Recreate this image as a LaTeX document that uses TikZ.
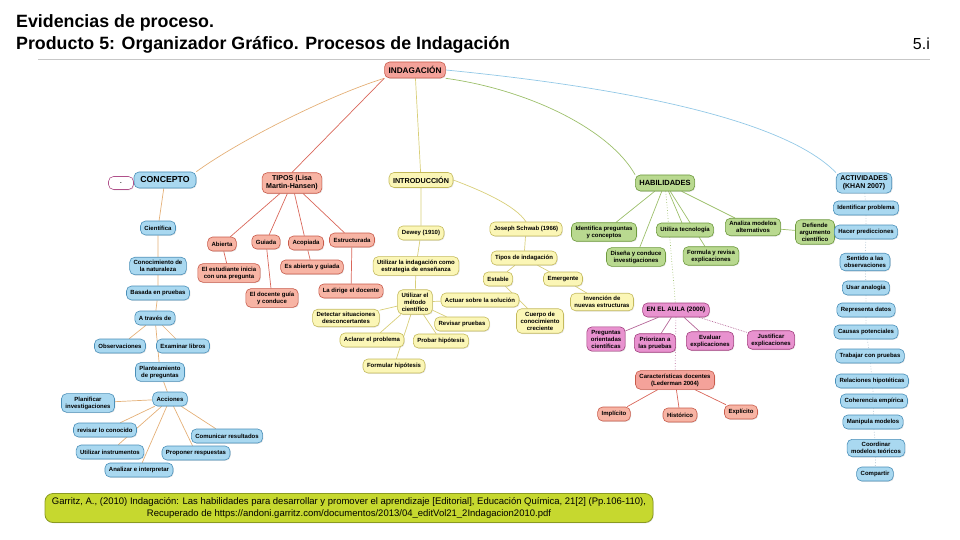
\documentclass[tikz,border=0pt]{standalone}
\usepackage{fontspec}
\setmainfont{Liberation Sans}
\usetikzlibrary{positioning, shadows, backgrounds}

\definecolor{azulF}{HTML}{A9D8F0}
\definecolor{azulL}{HTML}{4A8FB8}
\definecolor{salmonF}{HTML}{F7B4A4}
\definecolor{salmonL}{HTML}{C85A4A}
\definecolor{rojoF}{HTML}{F4A29A}
\definecolor{amarF}{HTML}{FBF6B6}
\definecolor{amarL}{HTML}{C4BA5C}
\definecolor{verdeF}{HTML}{B9D990}
\definecolor{verdeL}{HTML}{6E9A3E}
\definecolor{magF}{HTML}{E892CF}
\definecolor{magL}{HTML}{A2407F}
\definecolor{citaF}{HTML}{C6D82F}
\definecolor{citaL}{HTML}{8A9A22}
\definecolor{puntoL}{HTML}{B0508A}
\definecolor{lineTan}{HTML}{E4B078}
\definecolor{lineRoja}{HTML}{D9675A}
\definecolor{lineAmar}{HTML}{D8CE78}
\definecolor{lineVerde}{HTML}{9CBF6A}
\definecolor{lineAzul}{HTML}{92C8E6}
\definecolor{lineGris}{HTML}{A8BCCB}

\newcommand{\nodefont}{\fontsize{6}{7}\selectfont\bfseries}
\newcommand{\headfont}{\fontsize{7.4}{8.2}\selectfont\bfseries}

\begin{document}
\begin{tikzpicture}[
  x=1pt, y=1pt,
  caja/.style={draw, rounded corners=5pt, line width=0.6pt, align=center,
               font=\nodefont, inner xsep=4pt, inner ysep=3pt, minimum height=14pt,
               drop shadow={opacity=0.2, shadow xshift=0.8pt, shadow yshift=-0.8pt}},
  jefe/.style={font=\headfont},
  azul/.style={caja, fill=azulF, draw=azulL},
  salmon/.style={caja, fill=salmonF, draw=salmonL},
  amarillo/.style={caja, fill=amarF, draw=amarL},
  verde/.style={caja, fill=verdeF, draw=verdeL},
  magenta/.style={caja, fill=magF, draw=magL},
  con/.style={line width=0.7pt},
  titulo/.style={font=\fontsize{17.8}{21.5}\selectfont\bfseries, align=left, inner sep=0pt}
]
  \useasboundingbox (0,0) rectangle (960,-540);

  % encabezado
  \node[titulo, anchor=base west] (tit) at (16,-49.5) {Evidencias de proceso.\\Producto 5: Organizador Gráfico. Procesos de Indagación};
  \node[anchor=base east, font=\fontsize{16}{22}\selectfont, inner sep=0pt] (pag) at (930,-49.5) {5.i};
  \draw[black!22, line width=0.8pt] (38,-59) -- (930,-59);

  % centro
  \node[caja, fill=rojoF, draw=salmonL, font=\fontsize{8.2}{9}\selectfont\bfseries, minimum height=16pt] (indag) at (415,-70) {INDAGACIÓN};

  % concepto
  \node[azul, font=\fontsize{8.7}{9.5}\selectfont\bfseries, minimum width=62pt, minimum height=16pt] (concepto) at (165,-180) {CONCEPTO};
  \node[caja, fill=white, draw=puntoL, minimum width=25pt, minimum height=13pt] (punto) at (121,-183) {.};
  \node[azul] (cientifica) at (158,-228) {Científica};
  \node[azul] (conocimiento) at (158,-266) {Conocimiento de\\la naturaleza};
  \node[azul] (basada) at (158,-293) {Basada en pruebas};
  \node[azul] (atraves) at (155,-318) {A través de};
  \node[azul] (observ) at (120,-346) {Observaciones};
  \node[azul] (examinar) at (183,-346) {Examinar libros};
  \node[azul] (plantea) at (160,-372) {Planteamiento\\de preguntas};
  \node[azul] (acciones) at (170,-399) {Acciones};
  \node[azul] (planificar) at (88,-403) {Planificar\\investigaciones};
  \node[azul] (revisar) at (105,-430) {revisar lo conocido};
  \node[azul] (comunicar) at (227,-436) {Comunicar resultados};
  \node[azul] (utilizar) at (110,-452) {Utilizar instrumentos};
  \node[azul] (proponer) at (196,-453) {Proponer respuestas};
  \node[azul] (analizar) at (139,-470) {Analizar e interpretar};

  % tipos
  \node[salmon, font=\fontsize{7.1}{7.9}\selectfont\bfseries] (tipos) at (292,-183) {TIPOS (Lisa\\Martin-Hansen)};
  \node[salmon] (abierta) at (222,-244) {Abierta};
  \node[salmon] (guiada) at (266,-242) {Guiada};
  \node[salmon] (acopiada) at (306,-243) {Acopiada};
  \node[salmon] (estruct) at (352,-240) {Estructurada};
  \node[salmon] (estudiante) at (229,-273) {El estudiante inicia\\con una pregunta};
  \node[salmon] (esabierta) at (312,-267) {Es abierta y guiada};
  \node[salmon] (docguia) at (272,-298) {El docente guía\\y conduce};
  \node[salmon] (ladirige) at (351,-291) {La dirige el docente};

  % introduccion
  \node[amarillo, font=\fontsize{7.2}{8}\selectfont\bfseries, minimum height=15pt] (intro) at (421,-180) {INTRODUCCIÓN};
  \node[amarillo] (dewey) at (421,-233) {Dewey (1910)};
  \node[amarillo] (utilind) at (416,-266) {Utilizar la indagación como\\estrategia de enseñanza};
  \node[amarillo] (metodo) at (415,-302) {Utilizar el\\método\\científico};
  \node[amarillo] (detectar) at (346,-318) {Detectar situaciones\\desconcertantes};
  \node[amarillo] (actuar) at (480,-300) {Actuar sobre la solución};
  \node[amarillo] (revpruebas) at (462,-324) {Revisar pruebas};
  \node[amarillo] (aclarar) at (372,-340) {Aclarar el problema};
  \node[amarillo] (probar) at (441,-341) {Probar hipótesis};
  \node[amarillo] (formular) at (394,-366) {Formular hipótesis};
  \node[amarillo] (schwab) at (526,-229) {Joseph Schwab (1966)};
  \node[amarillo] (tiposind) at (524,-258) {Tipos de indagación};
  \node[amarillo] (estable) at (498,-279) {Estable};
  \node[amarillo] (emergente) at (563,-279) {Emergente};
  \node[amarillo] (cuerpo) at (540,-321) {Cuerpo de\\conocimiento\\creciente};
  \node[amarillo] (invencion) at (602,-302) {Invención de\\nuevas estructuras};

  % habilidades
  \node[verde, font=\fontsize{7.5}{8.3}\selectfont\bfseries, minimum height=16pt] (habil) at (665,-183) {HABILIDADES};
  \node[verde] (identifica) at (604,-232) {Identifica preguntas\\y conceptos};
  \node[verde] (tecno) at (685,-230) {Utiliza tecnología};
  \node[verde] (analiza) at (753,-227) {Analiza modelos\\alternativos};
  \node[verde] (defiende) at (815,-232) {Defiende\\argumento\\científico};
  \node[verde] (disena) at (636,-257) {Diseña y conduce\\investigaciones};
  \node[verde] (formula) at (711,-256) {Formula y revisa\\explicaciones};

  % en el aula
  \node[magenta, font=\fontsize{6.4}{7.2}\selectfont\bfseries] (aula) at (676,-310) {EN EL AULA (2000)};
  \node[magenta] (preguntas) at (606,-339) {Preguntas\\orientadas\\científicas};
  \node[magenta] (priorizan) at (655,-343) {Priorizan a\\las pruebas};
  \node[magenta] (evaluar) at (710,-341) {Evaluar\\explicaciones};
  \node[magenta] (justificar) at (771,-340) {Justificar\\explicaciones};
  \node[caja, fill=rojoF, draw=salmonL] (caract) at (675,-380) {Características docentes\\(Lederman 2004)};
  \node[salmon] (implicito) at (614,-414) {Implícito};
  \node[salmon] (historico) at (680,-415) {Histórico};
  \node[salmon] (explicito) at (741,-412) {Explícito};

  % actividades
  \node[azul, font=\fontsize{7}{7.8}\selectfont\bfseries] (activ) at (864,-183) {ACTIVIDADES\\(KHAN 2007)};
  \node[azul] (act1) at (866,-208) {Identificar problema};
  \node[azul] (act2) at (866,-232) {Hacer predicciones};
  \node[azul] (act3) at (865,-262) {Sentido a las\\observaciones};
  \node[azul] (act4) at (866,-288) {Usar analogía};
  \node[azul] (act5) at (866,-310) {Representa datos};
  \node[azul] (act6) at (866,-332) {Causas potenciales};
  \node[azul] (act7) at (870,-356) {Trabajar con pruebas};
  \node[azul] (act8) at (872,-381) {Relaciones hipotéticas};
  \node[azul] (act9) at (874,-401) {Coherencia empírica};
  \node[azul] (act10) at (873,-422) {Manipula modelos};
  \node[azul] (act11) at (876,-448) {Coordinar\\modelos teóricos};
  \node[azul] (act12) at (875,-474) {Compartir};

  % referencia
  \node[caja, fill=citaF, draw=citaL, line width=0.8pt, rounded corners=8pt,
        font=\fontsize{9.5}{12}\selectfont, inner xsep=2pt, minimum width=608pt, minimum height=29pt] (ref) at (349,-508)
        {Garritz, A., (2010) Indagación: Las habilidades para desarrollar y promover el aprendizaje [Editorial], Educación Química, 21[2] (Pp.106-110),\\Recuperado de https://andoni.garritz.com/documentos/2013/04\_editVol21\_2Indagacion2010.pdf};

  % conectores
  \begin{scope}[on background layer]
    \draw[con, lineTan] (indag.south west) .. controls (330,-95) and (240,-140) .. (concepto.north east);
    \draw[con, lineRoja] (indag.south west) -- (tipos.north);
    \draw[con, lineAmar] (indag) -- (intro);
    \draw[con, lineVerde] (indag.south east) .. controls (530,-90) and (610,-130) .. (habil.north west);
    \draw[con, lineAzul] (indag.east) .. controls (600,-85) and (780,-115) .. (activ.north west);

    \draw[con, lineTan] (concepto) -- (cientifica) -- (conocimiento) -- (basada) -- (atraves);
    \draw[con, lineTan] (atraves) -- (observ);
    \draw[con, lineTan] (atraves) -- (examinar);
    \draw[con, lineTan] (atraves) -- (plantea) -- (acciones);
    \draw[con, lineTan] (acciones) -- (planificar);
    \draw[con, lineTan] (acciones) -- (revisar);
    \draw[con, lineTan] (acciones) -- (utilizar);
    \draw[con, lineTan] (acciones) -- (analizar);
    \draw[con, lineTan] (acciones) -- (comunicar);
    \draw[con, lineTan] (acciones) -- (proponer);

    \draw[con, lineRoja] (tipos) -- (abierta) -- (estudiante);
    \draw[con, lineRoja] (tipos) -- (guiada) -- (docguia);
    \draw[con, lineRoja] (tipos) -- (acopiada) -- (esabierta);
    \draw[con, lineRoja] (tipos) -- (estruct) -- (ladirige);

    \draw[con, lineAmar] (intro) -- (dewey) -- (utilind) -- (metodo);
    \draw[con, lineAmar] (metodo) -- (detectar);
    \draw[con, lineAmar] (metodo) -- (actuar);
    \draw[con, lineAmar] (metodo) -- (revpruebas);
    \draw[con, lineAmar] (metodo) -- (aclarar);
    \draw[con, lineAmar] (metodo) -- (probar);
    \draw[con, lineAmar] (metodo) -- (formular);
    \draw[con, lineAmar] (intro.east) .. controls (480,-190) and (515,-205) .. (schwab.north);
    \draw[con, lineAmar] (schwab) -- (tiposind);
    \draw[con, lineAmar] (tiposind) -- (estable) -- (cuerpo);
    \draw[con, lineAmar] (tiposind) -- (emergente) -- (invencion);

    \draw[con, lineVerde] (habil) -- (identifica);
    \draw[con, lineVerde] (habil) -- (tecno);
    \draw[con, lineVerde] (habil) -- (analiza) -- (defiende);
    \draw[con, lineVerde] (habil) -- (disena);
    \draw[con, lineVerde] (habil) -- (formula);
    \draw[con, lineVerde, dotted] (habil) -- (aula);

    \draw[con, magL!80] (aula) -- (preguntas);
    \draw[con, magL!80] (aula) -- (priorizan);
    \draw[con, magL!80] (aula) -- (evaluar);
    \draw[con, magL!80, densely dotted] (aula) -- (justificar);
    \draw[con, magL!80, dotted] (aula) -- (caract);
    \draw[con, lineRoja] (caract) -- (implicito);
    \draw[con, lineRoja] (caract) -- (historico);
    \draw[con, lineRoja] (caract) -- (explicito);

    \draw[con, lineGris, dotted] (activ) -- (act1) -- (act2) -- (act3) -- (act4) -- (act5) -- (act6)
      -- (act7) -- (act8) -- (act9) -- (act10) -- (act11) -- (act12);
  \end{scope}
\end{tikzpicture}
\end{document}
